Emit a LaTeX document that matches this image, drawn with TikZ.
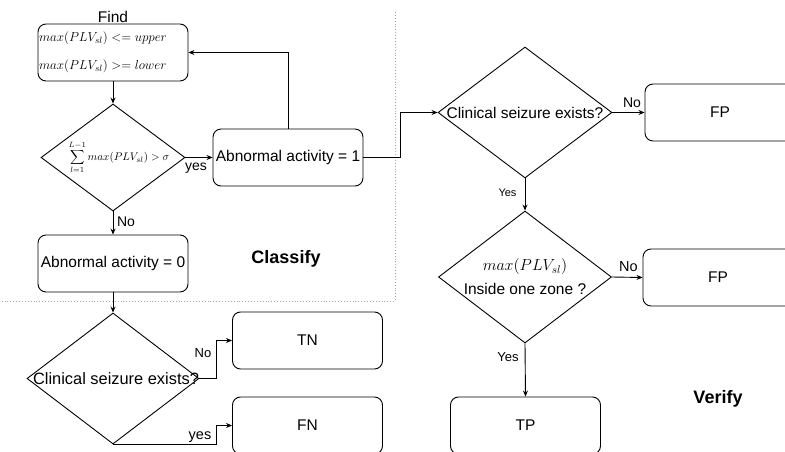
\RequirePackage{fix-cm}
\documentclass[tikz,border=0pt]{standalone}
\usepackage{fontspec}
\setmainfont{Liberation Sans}
\usetikzlibrary{shapes.geometric,arrows.meta}
\newcommand\myfs[2]{\fontsize{#1}{#2}\selectfont}
\tikzset{
  box/.style={draw, rounded corners=8pt, minimum width=150pt, minimum height=57pt,
    inner sep=0pt, line width=0.9pt, font=\myfs{15.5}{18}},
  dia/.style={draw, diamond, inner sep=0pt, line width=0.9pt},
  arr/.style={-{Stealth[length=6pt,width=5pt]}, line width=0.9pt},
  lbl/.style={inner sep=0pt},
  sep/.style={draw=gray!70, dotted, line width=0.9pt},
  title/.style={font=\bfseries\myfs{18}{20}, inner sep=0pt},
}
\begin{document}
\begin{tikzpicture}[x=1pt,y=-1pt]
\useasboundingbox (0,0) rectangle (785,452);
\clip (0,0) rectangle (785,452);

% separators
\draw[sep] (395,12) -- (395,301) -- (0,301);

% Classify part
\node[box, text width=148pt, align=left, inner sep=1pt, font=\myfs{13}{28},
      label={[inner sep=0pt, label distance=1pt, font=\myfs{15.5}{18}]north:Find}]
      (find) at (113,52.5) {$max(PLV_{sl}) <= upper$\\$max(PLV_{sl}) >= lower$};
\node[dia, minimum width=144pt, minimum height=107pt,
      label={[xshift=6pt, font=\myfs{11}{13}]center:$\displaystyle\sum_{l=1}^{L-1} max(PLV_{sl}) > \sigma$}]
      (d1) at (113,157.5) {};
\node[box] (ab1) at (288,157.5) {Abnormal activity = 1};
\node[box] (ab0) at (113,263.5) {Abnormal activity = 0};
\node[title] (cls) at (286,259) {Classify};

% Verify part
\node[dia, minimum width=172pt, minimum height=131pt,
      label={[xshift=3pt, font=\myfs{16.4}{18}]center:Clinical seizure exists?}]
      (d4) at (113,378.5) {};
\node[box] (tn) at (307.5,340.5) {TN};
\node[box] (fn) at (307.5,425.5) {FN};

\node[dia, minimum width=174pt, minimum height=131pt,
      label={[font=\myfs{15.5}{18}]center:Clinical seizure exists?}]
      (d2) at (525,112.5) {};
\node[box] (fp1) at (720,112.5) {FP};
\node[dia, minimum width=173pt, minimum height=132pt,
      label={[align=center, font=\myfs{15.5}{24}]center:{\myfs{16}{24}$max(PLV_{sl})$}\\Inside one zone ?}]
      (d3) at (525,277) {};
\node[box] (fp2) at (718,277.5) {FP};
\node[box] (tp) at (525.5,425.5) {TP};
\node[title] (ver) at (718,399) {Verify};

% connectors
\draw[arr] (find.south) -- (d1.north);
\draw[arr] (d1.east) -- (ab1.west) node[lbl, font=\myfs{14}{16}] (l1) at (196,168) {yes};
\draw[arr] (ab1.north) |- (find.east);
\draw[arr] (ab1.east) -- ++(37,0) |- (d2.west);
\draw[arr] (d1.south) -- (ab0.north) node[lbl, font=\myfs{14}{16}] (l2) at (126,222) {No};
\draw[arr] (ab0.south) -- (d4.north);
\draw[arr] (d4.east) -- ++(17,0) |- (tn.west) node[lbl, font=\myfs{13}{15}] (l3) at (203,353) {No};
\draw[arr] (d4.south) -- ++(103,0) |- (fn.west) node[lbl, font=\myfs{14.5}{16}] (l4) at (200,437) {yes};
\draw[arr] (d2.east) -- (fp1.west) node[lbl, font=\myfs{14}{16}] (l5) at (632,103) {No};
\draw[arr] (d2.south) -- (d3.north) node[lbl, font=\myfs{11}{13}] (l6) at (507.5,193) {Yes};
\draw[arr] (d3.east) -- (fp2.west) node[lbl, font=\myfs{14.5}{16}] (l7) at (628.5,267) {No};
\draw[arr] (d3.south) -- (tp.north) node[lbl, font=\myfs{13}{15}] (l8) at (508,357) {Yes};
\end{tikzpicture}
\end{document}
